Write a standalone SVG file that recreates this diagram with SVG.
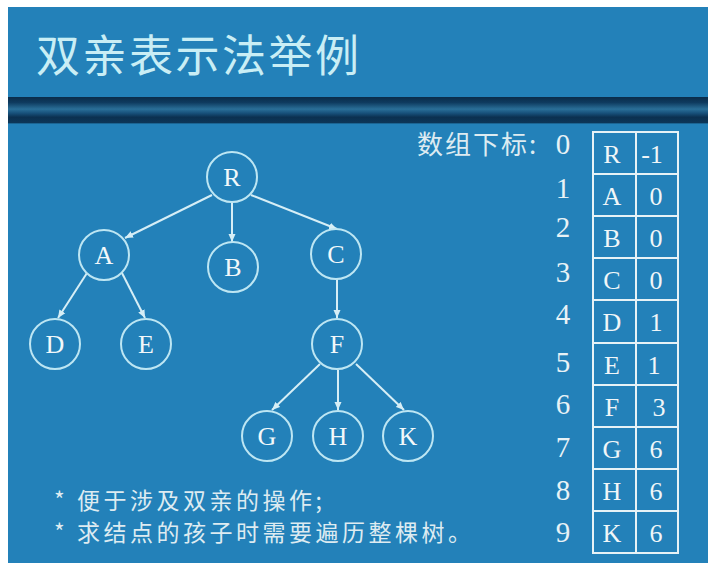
<svg xmlns="http://www.w3.org/2000/svg" width="722" height="578" viewBox="0 0 722 578">
<style>
.node circle{fill:none;stroke:#BDE6F3;stroke-width:2}
.node text{font-family:"Liberation Serif",serif;font-size:26px;fill:#F2F8FA;text-anchor:middle}
.edge{stroke:#D6EEF6;stroke-width:2;fill:none;marker-end:url(#arr)}
.cell{fill:none;stroke:#E6F2F6;stroke-width:2}
.tt{font-family:"Liberation Serif",serif;font-size:26px;fill:#F0F6F8;text-anchor:middle}
.idx{font-family:"Liberation Serif",serif;font-size:29px;fill:#E8F2F6;text-anchor:middle}
.cn{font-family:"Noto Sans CJK SC",sans-serif;fill:#DDEBF1}
</style>
<defs>
<marker id="arr" markerUnits="userSpaceOnUse" markerWidth="9" markerHeight="8" refX="8" refY="4" orient="auto">
<path d="M0,0.5 L8,4 L0,7.5 z" fill="#D6EEF6"/>
</marker>
<linearGradient id="band" x1="0" y1="0" x2="0" y2="1">
<stop offset="0" stop-color="#0A2C4A"/>
<stop offset="0.2" stop-color="#0E3A5E"/>
<stop offset="0.45" stop-color="#2A6F98"/>
<stop offset="0.6" stop-color="#17507A"/>
<stop offset="0.75" stop-color="#0B3050"/>
<stop offset="0.95" stop-color="#0C3658"/>
<stop offset="1" stop-color="#2480B6"/>
</linearGradient>
</defs>
<rect x="0" y="0" width="722" height="578" fill="#FFFFFF"/>
<rect x="8" y="7" width="700" height="556" fill="#2381B9"/>
<rect x="8" y="97" width="700" height="27" fill="url(#band)"/>
<text x="36" y="72" class="cn" font-size="44" letter-spacing="2.5" style="fill:#C9EEF5">双亲表示法举例</text>

<g id="connectors">
<line class="edge" x1="212" y1="195" x2="125" y2="238"/>
<line class="edge" x1="232" y1="202" x2="232" y2="242"/>
<line class="edge" x1="251" y1="195" x2="337" y2="229"/>
<line class="edge" x1="87" y1="273" x2="58" y2="318"/>
<line class="edge" x1="122" y1="273" x2="145" y2="318"/>
<line class="edge" x1="337" y1="278" x2="337" y2="318"/>
<line class="edge" x1="320" y1="364" x2="272" y2="410"/>
<line class="edge" x1="338" y1="370" x2="338" y2="410"/>
<line class="edge" x1="356" y1="364" x2="404" y2="410"/>
</g>

<g id="R" class="node"><circle cx="232" cy="177" r="25"/><text x="232" y="186">R</text></g>
<g id="A" class="node"><circle cx="104" cy="255" r="25"/><text x="104" y="264">A</text></g>
<g id="B" class="node"><circle cx="233" cy="267" r="25"/><text x="233" y="276">B</text></g>
<g id="C" class="node"><circle cx="336" cy="254" r="25"/><text x="336" y="263">C</text></g>
<g id="D" class="node"><circle cx="55" cy="344" r="25"/><text x="55" y="353">D</text></g>
<g id="E" class="node"><circle cx="146" cy="344" r="25"/><text x="146" y="353">E</text></g>
<g id="F" class="node"><circle cx="337" cy="344" r="25"/><text x="337" y="353">F</text></g>
<g id="G" class="node"><circle cx="267" cy="436" r="25"/><text x="267" y="445">G</text></g>
<g id="H" class="node"><circle cx="338" cy="436" r="25"/><text x="338" y="445">H</text></g>
<g id="K" class="node"><circle cx="408" cy="436" r="25"/><text x="408" y="445">K</text></g>

<g id="array-label">
<text x="417" y="154" class="cn" font-size="26" letter-spacing="2">数组下标:</text>
</g>
<g id="indices">
<text class="idx" x="563" y="154">0</text>
<text class="idx" x="563" y="198">1</text>
<text class="idx" x="563" y="237">2</text>
<text class="idx" x="563" y="282">3</text>
<text class="idx" x="563" y="324">4</text>
<text class="idx" x="563" y="372">5</text>
<text class="idx" x="563" y="414">6</text>
<text class="idx" x="563" y="457">7</text>
<text class="idx" x="563" y="500">8</text>
<text class="idx" x="563" y="542">9</text>
</g>
<g id="table">
<rect class="cell" x="593" y="132" width="85" height="421"/>
<line class="cell" x1="636" y1="132" x2="636" y2="553"/>
<line class="cell" x1="593" y1="174" x2="678" y2="174"/>
<line class="cell" x1="593" y1="216" x2="678" y2="216"/>
<line class="cell" x1="593" y1="258" x2="678" y2="258"/>
<line class="cell" x1="593" y1="300" x2="678" y2="300"/>
<line class="cell" x1="593" y1="343" x2="678" y2="343"/>
<line class="cell" x1="593" y1="385" x2="678" y2="385"/>
<line class="cell" x1="593" y1="427" x2="678" y2="427"/>
<line class="cell" x1="593" y1="469" x2="678" y2="469"/>
<line class="cell" x1="593" y1="511" x2="678" y2="511"/>
<text class="tt" x="612" y="163">R</text><text class="tt" x="652" y="163">-1</text>
<text class="tt" x="612" y="205">A</text><text class="tt" x="656" y="205">0</text>
<text class="tt" x="612" y="247">B</text><text class="tt" x="656" y="247">0</text>
<text class="tt" x="612" y="289">C</text><text class="tt" x="656" y="289">0</text>
<text class="tt" x="612" y="331">D</text><text class="tt" x="656" y="331">1</text>
<text class="tt" x="612" y="374">E</text><text class="tt" x="654" y="374">1</text>
<text class="tt" x="612" y="416">F</text><text class="tt" x="659" y="416">3</text>
<text class="tt" x="612" y="458">G</text><text class="tt" x="656" y="458">6</text>
<text class="tt" x="612" y="500">H</text><text class="tt" x="656" y="500">6</text>
<text class="tt" x="612" y="542">K</text><text class="tt" x="656" y="542">6</text>
</g>
<g id="notes">
<text x="54" y="509" class="cn" font-size="23" letter-spacing="3.5">* 便于涉及双亲的操作;</text>
<text x="54" y="541" class="cn" font-size="23" letter-spacing="3.5">* 求结点的孩子时需要遍历整棵树。</text>
</g>
</svg>
